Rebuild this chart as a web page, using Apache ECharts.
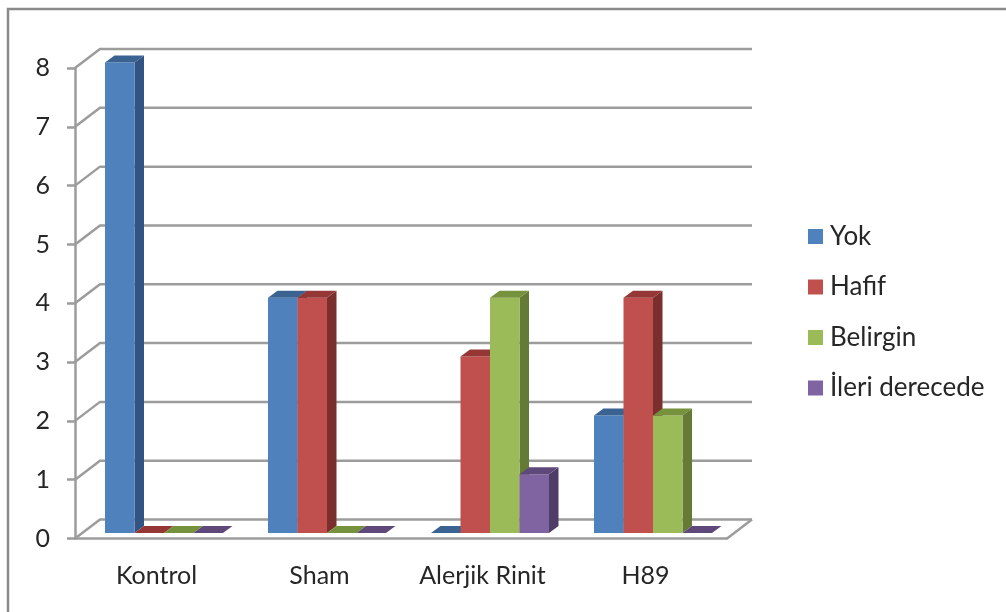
<!DOCTYPE html>
<html>
<head>
<meta charset="utf-8">
<style>
html, body {margin: 0; padding: 0; background: #fff;}
#chart {width: 1006px; height: 612px;}
</style>
<script src="https://cdn.jsdelivr.net/npm/echarts@6/dist/echarts.min.js"></script>
</head>
<body>
<div id="chart"></div>
<script>
var categories = ['Kontrol', 'Sham', 'Alerjik Rinit', 'H89'];
var yok = [8, 4, 0, 2];
var hafif = [0, 4, 3, 4];
var belirgin = [0, 0, 4, 2];
var ileri = [0, 0, 1, 0];
var yTicks = [0, 1, 2, 3, 4, 5, 6, 7, 8];

var lineColor = '#9c9c9c';
var textColor = '#262626';
var fontName = 'Lato';

// wall offset of the fake 3d box
var wallDx = 25, wallDy = -19;
// bar depth and shift from the front plane
var depthDx = 9.5, depthDy = -7, shiftDy = -5.5;
var barWidth = 29.5;

var chart = echarts.init(document.getElementById('chart'));

function renderWall(params, api) {
    var v = api.value(0);
    var p0 = api.coord([0, v]);
    var band = api.size([1, 0])[0];
    var x0 = p0[0] - band / 2;
    var x1 = x0 + band * categories.length;
    var y = p0[1];
    var style = {stroke: lineColor, lineWidth: 2.5, fill: null};
    var children = [{
        type: 'polyline',
        shape: {points: [[x0, y], [x0 + wallDx, y + wallDy], [x1 + wallDx, y + wallDy]]},
        style: style
    }];
    if (v === 0) {
        children.push({
            type: 'line',
            shape: {x1: x1, y1: y, x2: x1 + wallDx, y2: y + wallDy},
            style: style
        });
    }
    return {type: 'group', children: children};
}

function makeBars(name, values, index, front, top, side) {
    return {
        name: name,
        type: 'custom',
        z: 3,
        clip: false,
        itemStyle: {color: front},
        data: values.map(function (v, i) { return [i, v]; }),
        encode: {x: 0, y: 1},
        renderItem: function (params, api) {
            var base = api.coord([api.value(0), 0]);
            var tip = api.coord([api.value(0), api.value(1)]);
            var l = base[0] + 7.5 - barWidth * 2 + index * barWidth;
            var r = l + barWidth;
            var b = base[1] + shiftDy;
            var t = tip[1] + shiftDy;
            var children = [];
            if (b - t > 0) {
                children.push({
                    type: 'polygon',
                    shape: {points: [[r, t], [r + depthDx, t + depthDy], [r + depthDx, b + depthDy], [r, b]]},
                    style: {fill: side}
                });
                children.push({
                    type: 'rect',
                    shape: {x: l, y: t, width: barWidth, height: b - t},
                    style: {fill: front}
                });
            }
            children.push({
                type: 'polygon',
                shape: {points: [[l, t], [l + depthDx, t + depthDy], [r + depthDx, t + depthDy], [r, t]]},
                style: {fill: top}
            });
            return {type: 'group', children: children};
        }
    };
}

chart.setOption({
    animation: false,
    backgroundColor: '#fff',
    grid: {left: 75, right: 279, top: 68, bottom: 73.5},
    graphic: [{
        type: 'rect',
        silent: true,
        shape: {x: 8, y: 9, width: 1040, height: 640},
        style: {fill: 'none', stroke: '#8a8a8a', lineWidth: 2.5}
    }],
    legend: {
        orient: 'vertical',
        left: 803,
        top: 217.5,
        icon: 'rect',
        itemWidth: 15,
        itemHeight: 15,
        itemGap: 22.5,
        data: ['Yok', 'Hafif', 'Belirgin', 'İleri derecede'],
        textStyle: {fontFamily: fontName, fontSize: 26, color: textColor, padding: [0, 0, 0, 2], lineHeight: 28}
    },
    xAxis: {
        type: 'category',
        data: categories,
        axisLine: {lineStyle: {color: lineColor, width: 2.5}},
        axisTick: {length: 8, lineStyle: {color: lineColor, width: 2.5}},
        axisLabel: {interval: 0, hideOverlap: false, fontFamily: fontName, fontSize: 25, color: textColor, margin: 25}
    },
    yAxis: {
        type: 'value',
        min: 0,
        max: 8,
        interval: 1,
        splitLine: {show: false},
        axisLine: {show: true, lineStyle: {color: lineColor, width: 2.5}},
        axisTick: {show: true, length: 8, lineStyle: {color: lineColor, width: 2.5}},
        axisLabel: {fontFamily: fontName, fontSize: 25, color: textColor, margin: 25, padding: [2, 0, 0, 0]}
    },
    series: [
        {
            name: 'walls',
            type: 'custom',
            z: 1,
            clip: false,
            silent: true,
            data: yTicks.map(function (v) { return [v]; }),
            encode: {y: 0},
            renderItem: renderWall
        },
        makeBars('Yok', yok, 0, '#4f81bd', '#3b6391', '#325482'),
        makeBars('Hafif', hafif, 1, '#c0504d', '#953735', '#7b2f2d'),
        makeBars('Belirgin', belirgin, 2, '#9bbb59', '#76923c', '#647a35'),
        makeBars('İleri derecede', ileri, 3, '#8064a2', '#5f497a', '#4f3c67')
    ]
});
</script>
</body>
</html>
